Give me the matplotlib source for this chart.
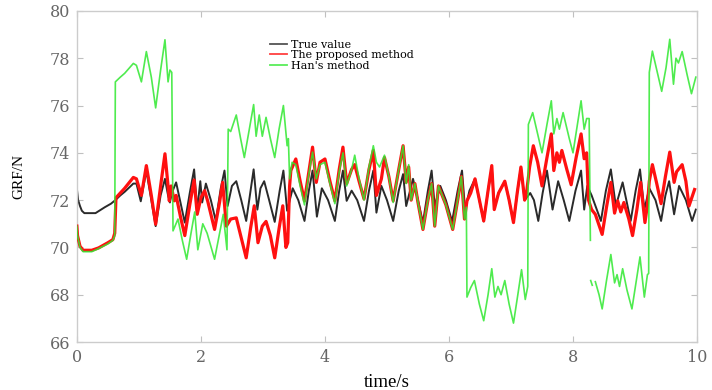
import numpy as np
import matplotlib
matplotlib.use("Agg")
import matplotlib.pyplot as plt

nan = np.nan

# ---- data ----
t_true = [0.00, 0.02, 0.05, 0.08, 0.12, 0.20, 0.30, 0.36, 0.45, 0.55, 0.62, 0.70, 0.77, 0.85, 0.91, 0.96,
          1.03, 1.12, 1.20, 1.27, 1.35, 1.42, 1.47, 1.50, 1.53, 1.60, 1.67, 1.74, 1.82, 1.89, 1.94, 1.99,
          2.02, 2.08, 2.16, 2.24, 2.32, 2.38, 2.43, 2.50, 2.57, 2.65, 2.73, 2.80, 2.85, 2.91, 2.96, 3.02,
          3.10, 3.19, 3.27, 3.33, 3.39, 3.48, 3.57, 3.67, 3.74, 3.80, 3.87, 3.95, 4.05, 4.16, 4.23, 4.29,
          4.35, 4.43, 4.52, 4.63, 4.71, 4.78, 4.83, 4.91, 5.00, 5.10, 5.19, 5.26, 5.31, 5.42, 5.50, 5.58,
          5.66, 5.72, 5.77, 5.86, 5.95, 6.05, 6.14, 6.21, 6.26, 6.33, 6.42, 6.49, 6.56, 6.63, 6.69, 6.73,
          6.80, 6.90, 6.97, 7.04, 7.10, 7.16, 7.22, 7.31, 7.37, 7.44, 7.51, 7.58, 7.67, 7.76, 7.85, 7.94,
          8.04, 8.13, 8.18, 8.23, 8.30, 8.45, 8.53, 8.61, 8.69, 8.80, 8.86, 8.93, 9.01, 9.08, 9.15, 9.23,
          9.33, 9.42, 9.49, 9.55, 9.63, 9.71, 9.82, 9.92, 9.98]
v_true = [72.47, 72.0, 71.75, 71.55, 71.45, 71.45, 71.45, 71.55, 71.7, 71.85, 72.0, 72.2, 72.35, 72.55, 72.7, 72.7,
          71.95, 73.25, 72.0, 70.9, 72.2, 72.9, 72.2, 71.9, 72.3, 72.75, 71.9, 71.05, 72.3, 73.3, 71.6, 72.8,
          71.9, 72.7, 72.0, 71.12, 72.5, 73.25, 71.75, 72.6, 72.8, 72.0, 71.12, 72.4, 73.3, 71.6, 72.5, 72.8,
          72.0, 71.08, 72.4, 73.25, 71.55, 72.5, 72.0, 71.12, 72.4, 73.25, 71.3, 72.5, 72.0, 71.12, 72.4, 73.25,
          71.97, 72.4, 72.0, 71.12, 72.4, 73.25, 71.47, 72.6, 72.0, 71.12, 72.4, 73.1, 71.75, 72.9, 72.0, 71.05,
          72.4, 73.25, 71.75, 72.6, 72.0, 71.1, 72.4, 73.25, 71.6, 72.4, 72.9, 72.0, 71.1, 72.4, 73.4, 71.7,
          72.3, 72.8, 72.0, 71.05, 72.3, 73.4, 72.0, 72.3, 72.0, 71.12, 72.3, 73.25, 71.6, 72.8, 72.0, 71.12,
          72.4, 73.25, 71.6, 72.6, 72.2, 71.12, 72.4, 73.3, 71.75, 72.75, 72.0, 71.12, 72.4, 73.3, 71.6, 72.5,
          72.0, 71.12, 72.2, 72.8, 71.4, 72.6, 72.0, 71.12, 71.6]

t_prop = [0.00, 0.01, 0.05, 0.10, 0.24, 0.35, 0.50, 0.58, 0.61, 0.63, 0.77, 0.91, 0.96, 1.04, 1.12, 1.20,
          1.27, 1.35, 1.42, 1.47, 1.49, 1.52, 1.57, 1.60, 1.67, 1.74, 1.82, 1.89, 1.94, 2.00, 2.06, 2.11,
          2.22, 2.30, 2.35, 2.41, 2.48, 2.57, 2.65, 2.73, 2.80, 2.86, 2.92, 2.99, 3.05, 3.12, 3.19, 3.26,
          3.32, 3.37, 3.40, 3.43, 3.45, 3.53, 3.60, 3.67, 3.74, 3.80, 3.86, 3.92, 4.00, 4.08, 4.16, 4.23,
          4.29, 4.35, 4.43, 4.48, 4.55, 4.63, 4.71, 4.78, 4.83, 4.91, 4.96, 5.03, 5.10, 5.19, 5.26, 5.31,
          5.35, 5.39, 5.45, 5.50, 5.58, 5.66, 5.72, 5.77, 5.83, 5.95, 6.06, 6.14, 6.20, 6.25, 6.29, 6.35,
          6.42, 6.49, 6.56, 6.63, 6.69, 6.73, 6.80, 6.90, 6.97, 7.04, 7.10, 7.16, 7.22, 7.25, 7.30, 7.36,
          7.43, 7.50, 7.58, 7.65, 7.69, 7.74, 7.78, 7.82, 7.90, 7.97, 8.05, 8.13, 8.18, 8.22, 8.25, 8.30,
          8.36, 8.47, 8.54, 8.61, 8.67, 8.72, 8.77, 8.82, 8.90, 8.96, 9.03, 9.09, 9.16, 9.20, 9.23, 9.28,
          9.35, 9.42, 9.49, 9.56, 9.63, 9.67, 9.76, 9.82, 9.87, 9.96]
v_prop = [70.9, 70.5, 70.05, 69.88, 69.88, 69.98, 70.2, 70.33, 70.6, 72.1, 72.5, 72.96, 72.9, 72.2, 73.46, 72.2,
          70.98, 72.6, 73.96, 72.6, 71.97, 72.6, 71.97, 72.2, 71.3, 70.5, 71.8, 72.85, 71.4, 72.1, 72.4, 71.95,
          70.76, 71.9, 72.75, 70.9, 71.2, 71.25, 70.4, 69.56, 70.8, 71.76, 70.2, 70.9, 71.1, 70.5, 69.56, 70.8,
          71.76, 70.0, 70.2, 72.6, 73.25, 73.74, 72.8, 71.97, 73.2, 74.24, 72.75, 73.6, 73.74, 72.8, 71.97, 73.3,
          74.24, 72.7, 73.3, 73.5, 72.8, 72.05, 73.3, 74.1, 72.2, 72.9, 73.8, 73.0, 71.97, 73.3, 74.3, 72.75,
          73.4, 72.0, 72.7, 71.9, 70.76, 72.0, 72.7, 70.9, 72.6, 71.8, 70.76, 72.0, 73.0, 71.2, 71.97, 72.3,
          72.9, 72.0, 71.12, 72.4, 73.46, 71.6, 72.3, 72.8, 72.0, 71.05, 72.3, 73.4, 72.0, 72.3, 73.4, 74.3,
          73.6, 72.6, 73.8, 74.8, 73.25, 74.0, 73.6, 74.1, 73.3, 72.65, 73.8, 74.8, 73.75, 74.0, 72.0, 71.6,
          71.4, 70.55, 71.7, 72.75, 71.45, 71.97, 71.5, 71.9, 71.2, 70.5, 71.6, 72.75, 71.05, 71.8, 72.8, 73.5,
          72.7, 71.85, 73.0, 74.03, 72.75, 73.2, 73.5, 72.8, 71.75, 72.45]

t_han = [0.00, 0.01, 0.05, 0.10, 0.24, 0.35, 0.50, 0.58, 0.61, 0.62, 0.70, 0.77, 0.85, 0.91, 0.96, 1.04,
         1.12, 1.20, 1.27, 1.35, 1.42, 1.47, 1.50, 1.53, 1.55, 1.63, 1.70, 1.77, 1.84, 1.90, 1.95, 2.03,
         2.10, 2.22, 2.30, 2.36, 2.42, 2.44, 2.48, 2.57, 2.64, 2.70, 2.78, 2.85, 2.89, 2.94, 2.99, 3.05,
         3.12, 3.19, 3.26, 3.33, 3.39, 3.41, 3.43, 3.47, 3.53, 3.60, 3.67, 3.74, 3.80, 3.86, 3.92, 4.00,
         4.08, 4.16, 4.23, 4.29, 4.35, 4.43, 4.48, 4.55, 4.63, 4.71, 4.78, 4.83, 4.88, 4.96, 5.03, 5.10,
         5.19, 5.26, 5.31, 5.35, 5.39, 5.45, 5.50, 5.58, 5.66, 5.72, 5.77, 5.83, 5.95, 6.06, 6.14, 6.20,
         6.25, 6.28, 6.29, 6.35, 6.41, 6.49, 6.56, 6.63, 6.69, 6.74, 6.79, 6.84, 6.90, 6.97, 7.04, 7.11,
         7.17, 7.23, 7.27, 7.28, 7.35, 7.43, 7.50, 7.58, 7.65, 7.69, 7.74, 7.78, 7.84, 7.94, 8.00, 8.07,
         8.13, 8.18, 8.22, 8.26, 8.28, 8.285, 8.285, 8.31, 8.33, 8.36, 8.42, 8.47, 8.54, 8.61, 8.67, 8.71,
         8.75, 8.80, 8.87, 8.95, 9.02, 9.08, 9.15, 9.20, 9.22, 9.23, 9.28, 9.36, 9.43, 9.50, 9.56, 9.62,
         9.66, 9.70, 9.76, 9.84, 9.91, 9.98]
v_han = [70.9, 70.5, 70.0, 69.82, 69.82, 69.95, 70.15, 70.3, 70.5, 77.0, 77.2, 77.36, 77.6, 77.78, 77.7, 77.0,
         78.28, 77.2, 75.9, 77.5, 78.78, 77.0, 77.5, 77.4, 70.7, 71.2, 70.3, 69.5, 70.6, 71.5, 69.9, 71.0,
         70.6, 69.5, 70.6, 71.4, 69.9, 75.0, 74.9, 75.6, 74.6, 73.8, 75.0, 76.04, 74.7, 75.6, 74.7, 75.5,
         74.6, 73.8, 75.0, 76.0, 74.3, 74.6, 72.9, 73.6, 73.5, 72.6, 71.8, 73.1, 74.03, 72.9, 73.5, 73.6,
         72.7, 71.85, 73.2, 74.0, 72.6, 73.3, 73.9, 72.9, 72.0, 73.4, 74.3, 73.6, 73.4, 73.9, 73.0, 71.9,
         73.3, 74.3, 72.7, 73.5, 72.0, 72.7, 71.9, 70.76, 72.0, 72.7, 70.9, 72.6, 71.8, 70.76, 72.0, 73.0,
         71.2, 71.7, 67.9, 68.3, 68.6, 67.6, 66.9, 68.0, 69.1, 67.9, 68.35, 68.0, 68.6, 67.6, 66.8, 68.0,
         69.06, 67.8, 68.35, 75.2, 75.7, 74.8, 74.0, 75.2, 76.2, 74.8, 75.45, 75.0, 75.7, 74.6, 74.0, 75.2,
         76.2, 75.0, 75.45, 75.45, 70.3, nan, 68.6, 68.4, nan, 68.55, 68.0, 67.4, 68.6, 69.7, 68.5, 68.85,
         68.35, 69.1, 68.2, 67.4, 68.6, 69.6, 67.9, 68.85, 68.9, 77.4, 78.3, 77.4, 76.6, 77.6, 78.8, 76.9,
         78.0, 77.8, 78.28, 77.3, 76.5, 77.2]

labels = ["True value", "The proposed method", "Han's method"]
x_ticks = [0, 2, 4, 6, 8, 10]
y_ticks = [66, 68, 70, 72, 74, 76, 78, 80]

# ---- figure ----
fig = plt.figure(figsize=(7.12, 3.90), dpi=100)
ax = fig.add_axes([0.108, 0.123, 0.871, 0.849])

ax.plot(t_true, v_true, color="#2a2a2a", lw=1.4, label=labels[0], solid_joinstyle="round", zorder=2)
ax.plot(t_prop, v_prop, color="#ff1010", lw=2.3, label=labels[1], solid_joinstyle="round", zorder=3)
ax.plot(t_han, v_han, color="#30e830", lw=1.2, alpha=0.85, label=labels[2], solid_joinstyle="round", zorder=4)

ax.set_xlim(0, 10)
ax.set_ylim(66, 80)
ax.set_xticks(x_ticks)
ax.set_yticks(y_ticks)
ax.set_xticklabels([str(v) for v in x_ticks], family="DejaVu Serif", fontsize=11.5, color="#666666")
ax.set_yticklabels([str(v) for v in y_ticks], family="DejaVu Serif", fontsize=11.5, color="#666666")
ax.tick_params(direction="in", length=4, width=0.8, color="#c0c0c0", top=True, right=True,
               labeltop=False, labelright=False, pad=5)
for s in ax.spines.values():
    s.set_color("#cccccc")
    s.set_linewidth(1.0)

ax.set_xlabel("time/s", family="Liberation Serif", fontsize=13.5, color="black", labelpad=6)
ax.set_ylabel("GRF/N", family="Liberation Serif", fontsize=11, color="black", labelpad=17)

leg = ax.legend(loc="upper left", bbox_to_anchor=(0.303, 0.93), frameon=False,
                prop={"family": "DejaVu Serif", "size": 8}, handlelength=1.5,
                handletextpad=0.35, labelspacing=0.05, borderpad=0.0)
for h in leg.get_lines():
    h.set_linewidth(1.3)
    h.set_alpha(0.8)

fig.savefig("out.png", dpi=100)
